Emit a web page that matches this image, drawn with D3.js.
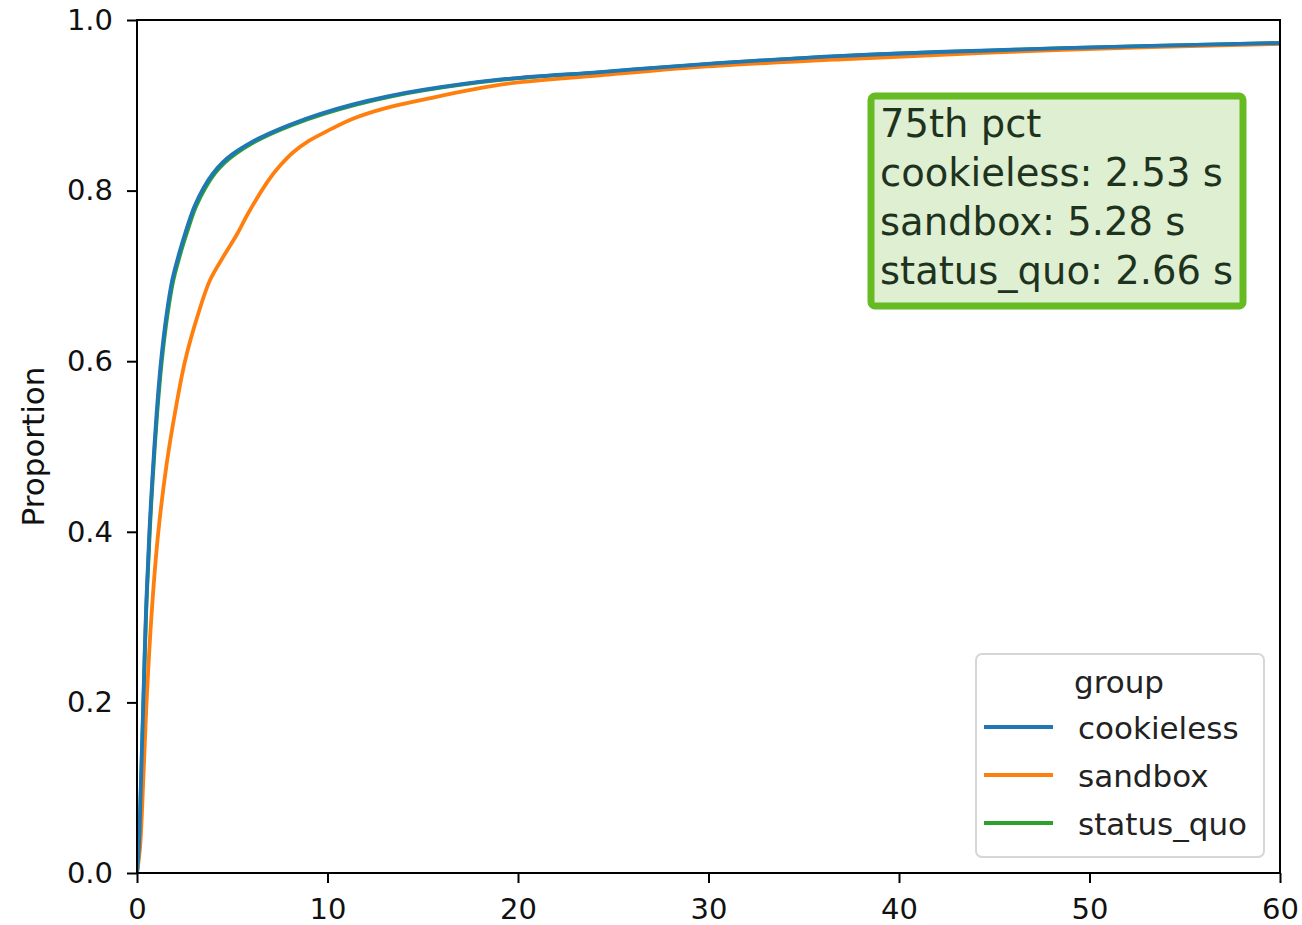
<!DOCTYPE html>
<html>
<head>
<meta charset="utf-8">
<script src="https://cdn.jsdelivr.net/npm/d3@7"></script>
<style>
  html, body { margin: 0; padding: 0; background: #ffffff; }
  svg { display: block; }
  text { font-family: "DejaVu Sans", sans-serif; }
</style>
</head>
<body>
<svg id="chart" width="1302" height="925"></svg>
<script>
// ---- data ----
const groups = ["cookieless", "sandbox", "status_quo"];
const groupColors = ["#1f77b4", "#ff7f0e", "#2ca02c"];

const cookielessX = [0, 0.1, 0.21, 0.33, 0.47, 0.65, 0.8, 1.03, 1.26, 1.56, 1.85, 2.26, 2.53, 3.0, 3.5, 4.0, 4.5, 5.0, 6.0, 7.0, 8.0, 9.6, 11.3, 13.1, 15, 19, 24.3, 29.6, 37, 48.6, 60];
const cookielessY = [0, 0.031, 0.109, 0.2, 0.305, 0.4, 0.46, 0.539, 0.6, 0.656, 0.695, 0.730, 0.75, 0.7805, 0.8035, 0.8205, 0.833, 0.8425, 0.8565, 0.8675, 0.877, 0.8898, 0.9008, 0.9102, 0.918, 0.930, 0.939, 0.948, 0.958, 0.967, 0.973];

const sandboxX = [0, 0.16, 0.33, 0.48, 0.77, 1.12, 1.56, 1.99, 2.52, 3.22, 3.83, 4.6, 5.28, 5.8, 6.9, 7.5, 8.2, 9.0, 10.0, 11.3, 13.1, 14.9, 19, 24.3, 29.6, 37, 48.6, 60];
const sandboxY = [0, 0.03, 0.109, 0.19, 0.305, 0.4, 0.48, 0.539, 0.6, 0.656, 0.695, 0.725, 0.75, 0.772, 0.812, 0.829, 0.845, 0.858, 0.870, 0.884, 0.897, 0.906, 0.924, 0.935, 0.945, 0.954, 0.965, 0.972];

const statusQuoX = [0, 0.1, 0.22, 0.34, 0.48, 0.67, 0.82, 1.06, 1.3, 1.61, 1.91, 2.33, 2.61, 3.08, 3.6, 4.1, 4.62, 5.13, 6.13, 7.13, 8.15, 9.8, 11.5, 13.3, 15.2, 19.2, 24.5, 29.8, 37.2, 48.8, 60];
const statusQuoY = [0, 0.031, 0.109, 0.2, 0.305, 0.4, 0.46, 0.539, 0.6, 0.656, 0.695, 0.730, 0.75, 0.7805, 0.8035, 0.8205, 0.833, 0.8425, 0.8565, 0.8675, 0.877, 0.8898, 0.9008, 0.9102, 0.918, 0.930, 0.939, 0.948, 0.958, 0.967, 0.973];

const xTicks = [0, 10, 20, 30, 40, 50, 60];
const yTicks = [0, 0.2, 0.4, 0.6, 0.8, 1.0];
const yLabel = "Proportion";
const legendTitle = "group";
const annotationLines = ["75th pct", "cookieless: 2.53 s", "sandbox: 5.28 s", "status_quo: 2.66 s"];

// ---- layout ----
const svg = d3.select("#chart");
const plot = { left: 137, right: 1280, top: 20, bottom: 873 };

const x = d3.scaleLinear().domain([0, 60]).range([plot.left, plot.right]);
const y = d3.scaleLinear().domain([0, 1]).range([plot.bottom, plot.top]);

const seriesData = {
  cookieless: cookielessX.map((v, i) => [v, cookielessY[i]]),
  sandbox: sandboxX.map((v, i) => [v, sandboxY[i]]),
  status_quo: statusQuoX.map((v, i) => [v, statusQuoY[i]])
};

const clipId = "plotclip";
svg.append("defs").append("clipPath").attr("id", clipId)
  .append("rect")
  .attr("x", plot.left).attr("y", plot.top)
  .attr("width", plot.right - plot.left).attr("height", plot.bottom - plot.top);

const line = d3.line()
  .x(d => x(d[0]))
  .y(d => y(d[1]))
  .curve(d3.curveCatmullRom.alpha(0.5));

// draw in reverse hue order so the first group is on top (seaborn style)
const linesG = svg.append("g").attr("clip-path", `url(#${clipId})`);
groups.slice().reverse().forEach(g => {
  const ci = groups.indexOf(g);
  linesG.append("path")
    .datum(seriesData[g])
    .attr("d", line)
    .attr("fill", "none")
    .attr("stroke", groupColors[ci])
    .attr("stroke-width", 3.8)
    .attr("stroke-linejoin", "round")
    .attr("stroke-linecap", "butt");
});

// ---- axes ----
const xAxis = d3.axisBottom(x).tickValues(xTicks).tickFormat(d3.format("d"))
  .tickSizeInner(10).tickSizeOuter(0).tickPadding(15);
const yAxis = d3.axisLeft(y).tickValues(yTicks).tickFormat(d3.format(".1f"))
  .tickSizeInner(10).tickSizeOuter(0).tickPadding(14);

const gx = svg.append("g").attr("transform", `translate(0,${plot.bottom})`).call(xAxis);
const gy = svg.append("g").attr("transform", `translate(${plot.left},0)`).call(yAxis);
[gx, gy].forEach(g => {
  g.select(".domain").remove();
  g.selectAll(".tick line").attr("stroke", "#000").attr("stroke-width", 2);
  g.selectAll(".tick text").attr("fill", "#111").style("font-size", "29px")
    .style("font-family", "'DejaVu Sans', sans-serif");
});

// spines
svg.append("rect")
  .attr("x", plot.left).attr("y", plot.top)
  .attr("width", plot.right - plot.left).attr("height", plot.bottom - plot.top)
  .attr("fill", "none").attr("stroke", "#000").attr("stroke-width", 2);

// y label
svg.append("text")
  .attr("transform", `translate(44,${(plot.top + plot.bottom) / 2}) rotate(-90)`)
  .attr("text-anchor", "middle")
  .attr("fill", "#111")
  .style("font-size", "31px")
  .text(yLabel);

// ---- annotation box ----
const ann = svg.append("g");
ann.append("rect")
  .attr("x", 871).attr("y", 96).attr("width", 372).attr("height", 210)
  .attr("rx", 4).attr("ry", 4)
  .attr("fill", "#deefd2").attr("stroke", "#66bb22").attr("stroke-width", 7);
annotationLines.forEach((t, i) => {
  ann.append("text")
    .attr("x", 880).attr("y", 137 + i * 49)
    .attr("fill", "#1e331e")
    .style("font-size", "38.5px")
    .text(t);
});

// ---- legend ----
const leg = svg.append("g");
leg.append("rect")
  .attr("x", 976).attr("y", 654).attr("width", 288).attr("height", 203)
  .attr("rx", 6).attr("ry", 6)
  .attr("fill", "rgba(255,255,255,0.85)").attr("stroke", "#d6d6d6").attr("stroke-width", 2);
leg.append("text")
  .attr("x", 1119).attr("y", 693)
  .attr("text-anchor", "middle")
  .attr("fill", "#222")
  .style("font-size", "31px")
  .text(legendTitle);
groups.forEach((g, i) => {
  const cy = 727 + i * 48;
  leg.append("line")
    .attr("x1", 984).attr("x2", 1053).attr("y1", cy).attr("y2", cy)
    .attr("stroke", groupColors[i]).attr("stroke-width", 3.8);
  leg.append("text")
    .attr("x", 1078).attr("y", cy + 12)
    .attr("fill", "#222")
    .style("font-size", "31px")
    .text(g);
});
</script>
</body>
</html>
